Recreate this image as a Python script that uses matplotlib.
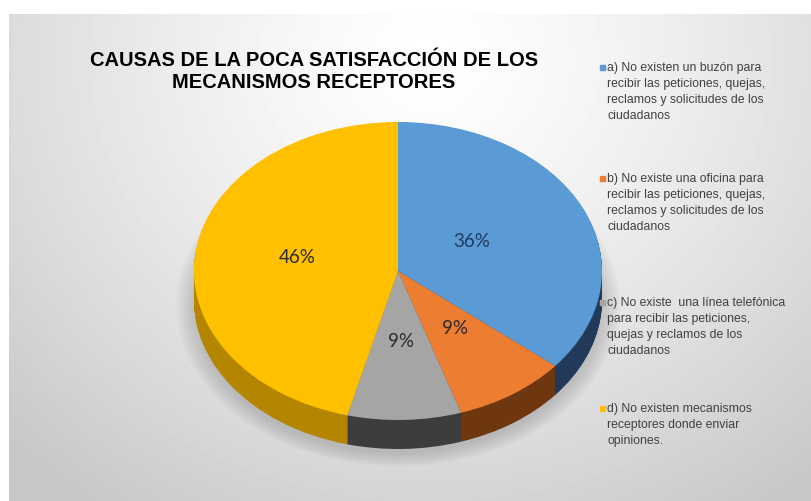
import numpy as np
import matplotlib
matplotlib.use('Agg')
import matplotlib.pyplot as plt
from matplotlib.patches import Rectangle, Ellipse

# data
labels = [
    'a) No existen un buzón para\nrecibir las peticiones, quejas,\nreclamos y solicitudes de los\nciudadanos',
    'b) No existe una oficina para\nrecibir las peticiones, quejas,\nreclamos y solicitudes de los\nciudadanos',
    'c) No existe  una línea telefónica\npara recibir las peticiones,\nquejas y reclamos de los\nciudadanos',
    'd) No existen mecanismos\nreceptores donde enviar\nopiniones.',
]
values = [36, 9, 9, 46]
colors = ['#5b9bd5', '#ed7d31', '#a5a5a5', '#ffc000']
side_colors = ['#22395a', '#6f370f', '#3d3d3d', '#b48600']
pct_colors = ['#1f3a5f', '#2b2b2b', '#2b2b2b', '#2b2b2b']
pct_dist = [0.4, 0.5, 0.5, 0.5]
title = 'CAUSAS DE LA POCA SATISFACCIÓN DE LOS\nMECANISMOS RECEPTORES'

W, H = 811, 502
fig = plt.figure(figsize=(W / 100, H / 100), dpi=100)
fig.patch.set_facecolor('white')

# background panel with soft gradient
bg = fig.add_axes([0, 0, 1, 1])
bg.set_xlim(0, W)
bg.set_ylim(H, 0)
bg.axis('off')
yy, xx = np.mgrid[15:H, 9:W]
d = np.hypot(xx - 430, (yy - 60) * 1.1)
shade = 1 - 0.22 * np.clip(d / 600, 0, 1) ** 1.3
bg.imshow(shade, cmap='gray', vmin=0, vmax=1, extent=(9, W, H, 15),
          aspect='auto', interpolation='bilinear')

# pie geometry (pixels)
cx, cy, rx, ry, depth = 398, 272, 204, 149, 29
D = depth / ry
m = 0.14
ax_left = cx - rx * (1 + m)
ax_top = cy - ry * (1 + m)
ax_w = rx * 2 * (1 + m)
ax_h = ry * (2 + D + 2 * m)
ax = fig.add_axes([ax_left / W, 1 - (ax_top + ax_h) / H, ax_w / W, ax_h / H])
ax.set_facecolor('none')

# soft shadow under the pie
for k in range(8):
    ax.add_patch(Ellipse((0.0, -D - 0.03), 2.0 + 0.025 * k, 2.0 + 0.025 * k,
                         color='black', alpha=0.018, lw=0, zorder=0))

# side walls: stacked pies
for off in np.linspace(D, 0, 40, endpoint=False):
    ax.pie(values, colors=side_colors, startangle=90, counterclock=False,
           center=(0, -off), wedgeprops=dict(linewidth=0))

wedges, texts, autotexts = ax.pie(
    values, colors=colors, startangle=90, counterclock=False,
    autopct=lambda p: f'{p:.0f}%', pctdistance=0.5,
    wedgeprops=dict(linewidth=0),
    textprops=dict(fontsize=13.5, family='Lato'))
# perspective: labels sit a little higher than the flat centre
lift = 0.035
for w, t, c, r in zip(wedges, autotexts, pct_colors, pct_dist):
    mid = np.deg2rad((w.theta1 + w.theta2) / 2)
    t.set_position((r * np.cos(mid), r * np.sin(mid) + lift))
    t.set_color(c)

ax.set_xlim(-1 - m, 1 + m)
ax.set_ylim(-1 - D - m, 1 + m)
ax.set_aspect('auto')
ax.axis('off')

# title
fig.text(314 / W, 1 - 71.5 / H, title, ha='center', va='center',
         fontsize=14.5, fontweight='bold', family='Liberation Sans',
         color='black', linespacing=1.2)

# legend, drawn by hand so the marker sits on the first line
first_top = [62, 173, 297, 403]
for lab, col, top in zip(labels, colors, first_top):
    fig.text(607 / W, 1 - top / H, lab, ha='left', va='top',
             fontsize=8.8, family='Liberation Sans', color='#404040',
             linespacing=1.45)
    fig.patches.append(Rectangle((600 / W, 1 - (top + 9) / H), 5 / W, 5 / H,
                                 transform=fig.transFigure, color=col,
                                 figure=fig))

fig.savefig('out.png', dpi=100)
